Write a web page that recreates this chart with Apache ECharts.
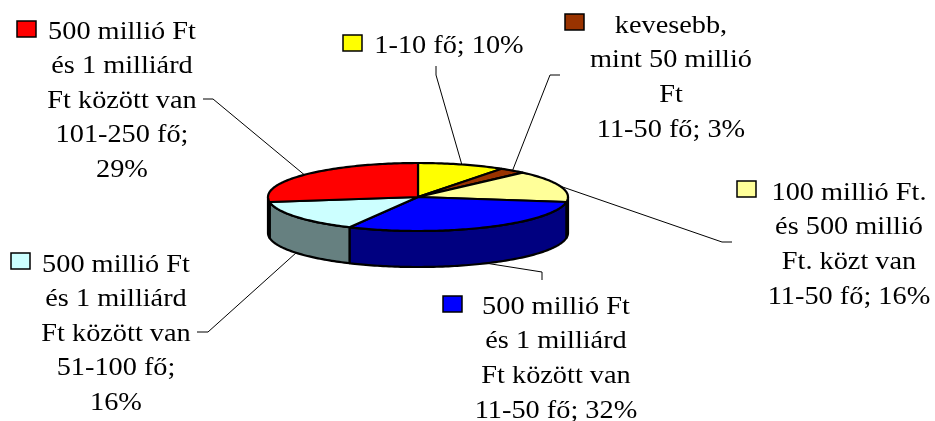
<!DOCTYPE html>
<html>
<head>
<meta charset="utf-8">
<style>html,body{margin:0;padding:0;background:#fff}#c{width:935px;height:421px}</style>
<script src="https://cdn.jsdelivr.net/npm/echarts@6/dist/echarts.min.js"></script>
</head>
<body>
<div id="c"></div>
<script>
// Data, clockwise from 12 o'clock
var labels = [
  "1-10 fő; 10%",
  "kevesebb,\nmint 50 millió\nFt\n11-50 fő; 3%",
  "100 millió Ft.\nés 500 millió\nFt. közt van\n11-50 fő; 16%",
  "500 millió Ft\nés 1 milliárd\nFt között van\n11-50 fő; 32%",
  "500 millió Ft\nés 1 milliárd\nFt között van\n51-100 fő;\n16%",
  "500 millió Ft\nés 1 milliárd\nFt között van\n101-250 fő;\n29%"
];
var values = [10, 3, 16, 32, 16, 29];

// Styles
var topColors  = ["#FFFF00", "#993300", "#FFFF99", "#0000FF", "#CCFFFF", "#FF0000"];
var sideColors = ["#808000", "#4D1A00", "#808050", "#000080", "#668080", "#800000"];

// Layout
var cx = 418, cy = 197, rx = 150, ry = 34, depth = 36;
var FONT = '25.5px "Liberation Serif", "Times New Roman", serif';
var LH = 34.6, TEXT_STRETCH = 1.11;
var labelCenter = [[449,46],[671,78],[849,245],[556,359],[116,334],[122,101]];
var keyPos = [[343,35],[565,14],[737,181],[443,296],[11,253],[17,21]];
// Leader: label-side end, elbow; the third point comes from the slice's mid angle
var leaderFrom = [
  [[436,66],[436,75]],
  [[560,75],[550,75]],
  [[732,242],[722,242]],
  [[542,280],[542,272]],
  [[197,332],[208,332]],
  [[203,99],[213,99]]
];

var total = values.reduce(function (a, b) { return a + b; }, 0);
var bounds = [0];
values.forEach(function (v, i) { bounds.push(bounds[i] + v / total * Math.PI * 2); });
function pt(a, dy) { return [cx + rx * Math.sin(a), cy - ry * Math.cos(a) + (dy || 0)]; }
function arc(a0, a1, dy) {
  var n = Math.max(2, Math.ceil((a1 - a0) / 0.02)), out = [];
  for (var k = 0; k <= n; k++) out.push(pt(a0 + (a1 - a0) * k / n, dy));
  return out;
}

var stroke = { stroke: '#000', lineWidth: 2.2, lineJoin: 'round' };
function poly(points, fill) {
  return { type: 'polygon', shape: { points: points }, style: Object.assign({ fill: fill }, stroke) };
}
function renderSide(params) {
  var i = params.dataIndex;
  var a0 = Math.max(bounds[i], Math.PI / 2), a1 = Math.min(bounds[i + 1], Math.PI * 1.5);
  if (a1 <= a0) return { type: 'group', children: [] };
  var upper = arc(a0, a1, 0), lower = arc(a0, a1, depth).reverse();
  return poly(upper.concat(lower), sideColors[i]);
}
function renderTop(params) {
  var i = params.dataIndex;
  return poly([[cx, cy]].concat(arc(bounds[i], bounds[i + 1], 0)), topColors[i]);
}
function renderLabel(params) {
  var i = params.dataIndex;
  var mid = (bounds[i] + bounds[i + 1]) / 2;
  var front = Math.cos(mid) < -0.3;
  var end = pt(mid, front ? depth : 0);
  var lf = leaderFrom[i];
  return { type: 'group', children: [
    { type: 'polyline', shape: { points: [lf[0], lf[1], end] },
      style: { stroke: '#000', lineWidth: 1, fill: null } },
    { type: 'rect', shape: { x: keyPos[i][0], y: keyPos[i][1], width: 19, height: 16 },
      style: { fill: topColors[i], stroke: '#000', lineWidth: 1.5 } },
    { type: 'text', x: labelCenter[i][0], y: labelCenter[i][1], scaleX: TEXT_STRETCH,
      style: { text: labels[i], font: FONT, fill: '#000', align: 'center',
               verticalAlign: 'middle', lineHeight: LH } }
  ] };
}
var rows = values.map(function (v) { return [v]; });
var chart = echarts.init(document.getElementById('c'), null, { renderer: 'canvas' });
chart.setOption({
  animation: false,
  backgroundColor: '#fff',
  series: [
    { type: 'custom', coordinateSystem: 'none', data: rows, renderItem: renderSide, silent: true, z: 1 },
    { type: 'custom', coordinateSystem: 'none', data: rows, renderItem: renderTop, silent: true, z: 2 },
    { type: 'custom', coordinateSystem: 'none', data: rows, renderItem: renderLabel, silent: true, z: 3 }
  ]
});
</script>
</body>
</html>
